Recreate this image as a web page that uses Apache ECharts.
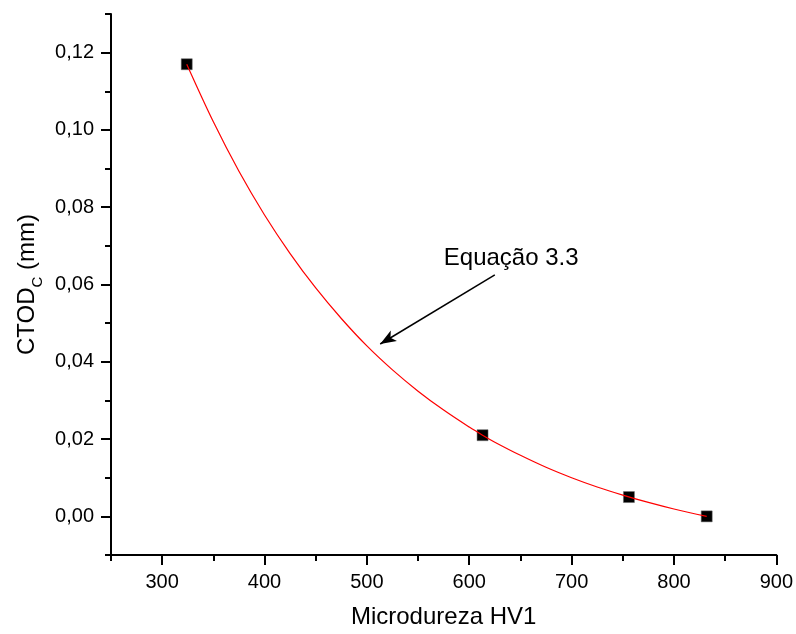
<!DOCTYPE html>
<html>
<head>
<meta charset="utf-8">
<script src="https://cdn.jsdelivr.net/npm/echarts@6/dist/echarts.min.js"></script>
<style>
  html, body { margin: 0; padding: 0; background: #fff; overflow: hidden; }
  #chart { width: 796px; height: 634px; }
</style>
</head>
<body>
<div id="chart"></div>
<script>
// Measured specimens: microhardness HV1 vs critical CTOD (mm)
const hardness = [324, 613, 756, 832];
const ctod = [0.117, 0.021, 0.005, 0.000];

// Fitted curve (Equação 3.3), sampled along the drawn trend
const fitHardness = [324, 350, 375, 400, 425, 450, 475, 500, 525, 550, 575, 600, 613,
                     625, 650, 675, 700, 725, 750, 775, 800, 832];
const fitCtod = [0.1170, 0.1021, 0.0893, 0.0780, 0.0680, 0.0591, 0.0512, 0.0441, 0.0379,
                 0.0324, 0.0275, 0.0231, 0.0210, 0.0192, 0.0158, 0.0127, 0.0100, 0.0076,
                 0.0055, 0.0036, 0.0019, 0.0000];

// Tick labels
const xTicks = [300, 400, 500, 600, 700, 800, 900];
const yTicks = [0, 0.02, 0.04, 0.06, 0.08, 0.10, 0.12];

// Annotation: label and arrow pointing at the fitted curve
const noteText = 'Equação 3.3';
const notePos = [641, 0.0668];
const arrowFrom = [625, 0.0625];
const arrowTo = [513, 0.0446];

const FONT = '"Liberation Sans", Arial, sans-serif';
const ink = '#000';

const chart = echarts.init(document.getElementById('chart'), null, { renderer: 'canvas' });

const baseX = { type: 'value', min: 250, max: 900, position: 'bottom', splitLine: { show: false } };
const baseY = { type: 'value', min: -0.01, max: 0.13, position: 'left', splitLine: { show: false } };

chart.setOption({
  backgroundColor: '#fff',
  animation: false,
  grid: { left: 111, right: 17, top: 14, bottom: 75, containLabel: false },
  xAxis: [
    // axis line + minor ticks every 50
    Object.assign({}, baseX, {
      interval: 50,
      axisLine: { show: true, onZero: false, lineStyle: { color: ink, width: 2 } },
      axisTick: { show: true, inside: false, length: 6, lineStyle: { color: ink, width: 2 } },
      axisLabel: { show: false },
      name: 'Microdureza HV1',
      nameLocation: 'middle',
      nameGap: 50,
      nameTextStyle: { fontFamily: FONT, fontSize: 24, color: ink }
    }),
    // major ticks + labels every 100
    Object.assign({}, baseX, {
      axisLine: { show: false, onZero: false },
      axisTick: { show: true, inside: false, length: 10, customValues: xTicks,
                  lineStyle: { color: ink, width: 2 } },
      axisLabel: { show: true, customValues: xTicks, margin: 17,
                   fontFamily: FONT, fontSize: 20, color: ink,
                   formatter: v => String(v) }
    })
  ],
  yAxis: [
    // axis line + minor ticks every 0.01
    Object.assign({}, baseY, {
      interval: 0.01,
      axisLine: { show: true, onZero: false, lineStyle: { color: ink, width: 2 } },
      axisTick: { show: true, inside: false, length: 6, lineStyle: { color: ink, width: 2 } },
      axisLabel: { show: false },
      name: '{a|CTOD}{s|C}{a| (mm)}',
      nameLocation: 'middle',
      nameGap: 72,
      nameRotate: 90,
      nameTextStyle: {
        rich: {
          a: { fontFamily: FONT, fontSize: 24, color: ink, lineHeight: 30, verticalAlign: 'bottom' },
          s: { fontFamily: FONT, fontSize: 15, color: ink, lineHeight: 30, verticalAlign: 'bottom',
               padding: [0, 0, -6, 0] }
        }
      }
    }),
    // major ticks + labels every 0.02
    Object.assign({}, baseY, {
      axisLine: { show: false, onZero: false },
      axisTick: { show: true, inside: false, length: 10, customValues: yTicks,
                  lineStyle: { color: ink, width: 2 } },
      axisLabel: { show: true, customValues: yTicks, margin: 17,
                   fontFamily: FONT, fontSize: 20, color: ink,
                   formatter: v => Math.abs(v).toFixed(2).replace('.', ',') }
    })
  ],
  series: [
    {
      name: 'Ensaios',
      type: 'scatter',
      xAxisIndex: 0, yAxisIndex: 0,
      symbol: 'rect',
      symbolSize: 11,
      itemStyle: { color: '#000', opacity: 1, borderColor: '#6a6a6a', borderWidth: 0.5 },
      data: hardness.map((h, i) => [h, ctod[i]]),
      z: 3
    },
    {
      name: noteText,
      type: 'line',
      xAxisIndex: 0, yAxisIndex: 0,
      smooth: 0.35,
      showSymbol: false,
      lineStyle: { color: '#ff0000', width: 1.2 },
      data: fitHardness.map((h, i) => [h, fitCtod[i]]),
      z: 4
    },
    {
      name: 'nota',
      type: 'line',
      xAxisIndex: 0, yAxisIndex: 0,
      data: [],
      markLine: {
        silent: true,
        animation: false,
        label: { show: false },
        lineStyle: { color: ink, width: 1.5, type: 'solid' },
        data: [[
          { coord: arrowFrom, symbol: 'none' },
          { coord: arrowTo, symbol: 'arrow', symbolSize: [9, 16] }
        ]]
      },
      markPoint: {
        silent: true,
        symbol: 'circle',
        symbolSize: 0,
        label: {
          show: true, position: 'inside', formatter: noteText,
          fontFamily: FONT, fontSize: 24, color: ink
        },
        data: [{ coord: notePos }]
      },
      z: 5
    }
  ]
});
</script>
</body>
</html>
